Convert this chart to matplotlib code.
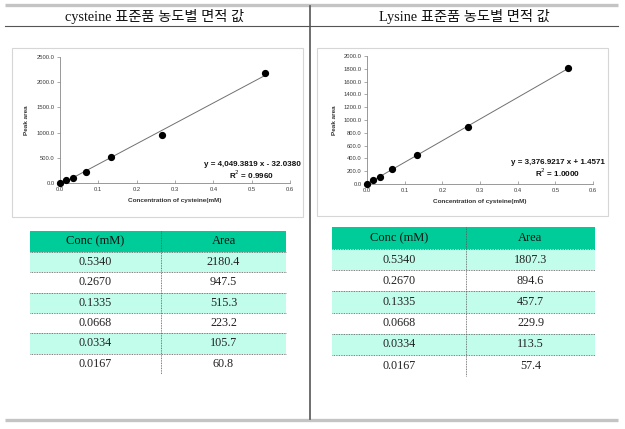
import matplotlib
matplotlib.use("Agg")
import matplotlib.pyplot as plt
from matplotlib.patches import Rectangle
import numpy as np

W, H = 625, 429

titles = ["cysteine 표준품 농도별 면적 값", "Lysine 표준품 농도별 면적 값"]
conc = [0.5340, 0.2670, 0.1335, 0.0668, 0.0334, 0.0167]
area_cys = [2180.4, 947.5, 515.3, 223.2, 105.7, 60.8]
area_lys = [1807.3, 894.6, 457.7, 229.9, 113.5, 57.4]
conc_labels = ["0.5340", "0.2670", "0.1335", "0.0668", "0.0334", "0.0167"]
# chart includes the origin point
x_cys = [0.0] + conc[::-1]
y_cys = [0.0] + area_cys[::-1]
x_lys = [0.0] + conc[::-1]
y_lys = [0.0] + area_lys[::-1]
fit_cys = (4049.3819, -32.0380)
fit_lys = (3376.9217, 1.4571)
eq_cys = ["y = 4,049.3819 x - 32.0380", "R$^2$ = 0.9960"]
eq_lys = ["y = 3,376.9217 x + 1.4571", "R$^2$ = 1.0000"]
xlabel = "Concentration of cysteine(mM)"
ylabel = "Peak area"

fig = plt.figure(figsize=(W / 100, H / 100), dpi=100)
bg = fig.add_axes([0, 0, 1, 1])
bg.set_xlim(0, W)
bg.set_ylim(H, 0)
bg.axis("off")

# page frame lines
bg.plot([5, 618], [4.5, 4.5], color="#c4c4c4", lw=2.4, solid_capstyle="butt")
bg.plot([5, 618], [420, 420], color="#c4c4c4", lw=2.4, solid_capstyle="butt")
bg.plot([5, 618], [26, 26], color="#555555", lw=0.8)
bg.plot([310, 310], [6, 419], color="#555555", lw=1.2)

tfont = ["Liberation Serif", "Noto Sans CJK KR"]
bg.text(155, 16, titles[0], ha="center", va="center", fontsize=10.3, family=tfont, color="#111111")
bg.text(464, 16, titles[1], ha="center", va="center", fontsize=10.3, family=tfont, color="#111111")

# chart boxes
bg.add_patch(Rectangle((12, 48), 291, 169, fill=False, ec="#d6d6d6", lw=0.8))
bg.add_patch(Rectangle((317, 48), 291, 168, fill=False, ec="#d6d6d6", lw=0.8))


def chart(px0, px1, py0, py1, xs, ys, fit, ymax, ystep, eq, eqx, eqy):
    ax = fig.add_axes([px0 / W, 1 - py0 / H, (px1 - px0) / W, (py0 - py1) / H])
    ax.patch.set_alpha(0)
    ax.set_xlim(0, 0.6)
    ax.set_ylim(0, ymax)
    ax.set_xticks(np.arange(0, 0.61, 0.1))
    ax.set_xticklabels(["%.1f" % v for v in np.arange(0, 0.61, 0.1)])
    yt = np.arange(0, ymax + 1, ystep)
    ax.set_yticks(yt)
    ax.set_yticklabels(["%.1f" % v for v in yt])
    for s in ["top", "right"]:
        ax.spines[s].set_visible(False)
    for s in ["left", "bottom"]:
        ax.spines[s].set_color("#888888")
        ax.spines[s].set_linewidth(0.6)
    ax.tick_params(axis="x", direction="in", length=2, width=0.5, color="#888888",
                   labelsize=4.2, labelcolor="#3a3a3a", pad=3)
    ax.tick_params(axis="y", direction="out", length=2, width=0.5, color="#888888",
                   labelsize=4.2, labelcolor="#3a3a3a", pad=2)
    for lab in ax.get_xticklabels() + ax.get_yticklabels():
        lab.set_family("Liberation Sans")
    xl = np.array([0.0, max(xs)])
    ax.plot(xl, fit[0] * xl + fit[1], color="#707070", lw=0.7)
    ax.plot(xs, ys, "o", color="black", ms=4.2, clip_on=False, zorder=5)
    ax.set_xlabel(xlabel, fontsize=4.6, fontweight="bold", family="Liberation Sans",
                  color="#333333", labelpad=4)
    ax.set_ylabel(ylabel, fontsize=4.6, fontweight="bold", family="Liberation Sans",
                  color="#333333", labelpad=5)
    bg.text(eqx, eqy, eq[0], ha="center", va="center", fontsize=5.8, fontweight="bold",
            family="Liberation Sans", color="#111111")
    bg.text(eqx, eqy + 11, eq[1], ha="center", va="center", fontsize=5.8, fontweight="bold",
            family="Liberation Sans", color="#111111")
    return ax


chart(60, 290, 183, 57, x_cys, y_cys, fit_cys, 2500, 500, eq_cys, 252, 164)
chart(367, 593, 184, 56, x_lys, y_lys, fit_lys, 2000, 200, eq_lys, 558, 162)


def table(x0, x1, xd, ytop, hh, rh, areas):
    bg.add_patch(Rectangle((x0, ytop), x1 - x0, hh, fc="#00cc99", ec="none"))
    cf = "Liberation Serif"
    bg.text((x0 + xd) / 2, ytop + hh / 2, "Conc (mM)", ha="center", va="center",
            fontsize=9, family=cf, color="#111111")
    bg.text((xd + x1) / 2, ytop + hh / 2, "Area", ha="center", va="center",
            fontsize=9, family=cf, color="#111111")
    y = ytop + hh
    for i in range(len(areas)):
        if i % 2 == 0:
            bg.add_patch(Rectangle((x0, y), x1 - x0, rh, fc="#c2fdeb", ec="none"))
        bg.plot([x0, x1], [y, y], color="#555555", lw=0.6, ls=(0, (1, 1)))
        bg.text((x0 + xd) / 2, y + rh / 2, conc_labels[i], ha="center", va="center",
                fontsize=8.7, family=cf, color="#222222")
        bg.text((xd + x1) / 2, y + rh / 2, "%.1f" % areas[i], ha="center", va="center",
                fontsize=8.7, family=cf, color="#222222")
        y += rh
    bg.plot([xd, xd], [ytop, y], color="#555555", lw=0.6, ls=(0, (1, 1)))


table(30, 286, 161, 231, 21, 20.3, area_cys)
table(332, 595, 466, 227, 22, 21.2, area_lys)

fig.savefig("out.png", dpi=100)
